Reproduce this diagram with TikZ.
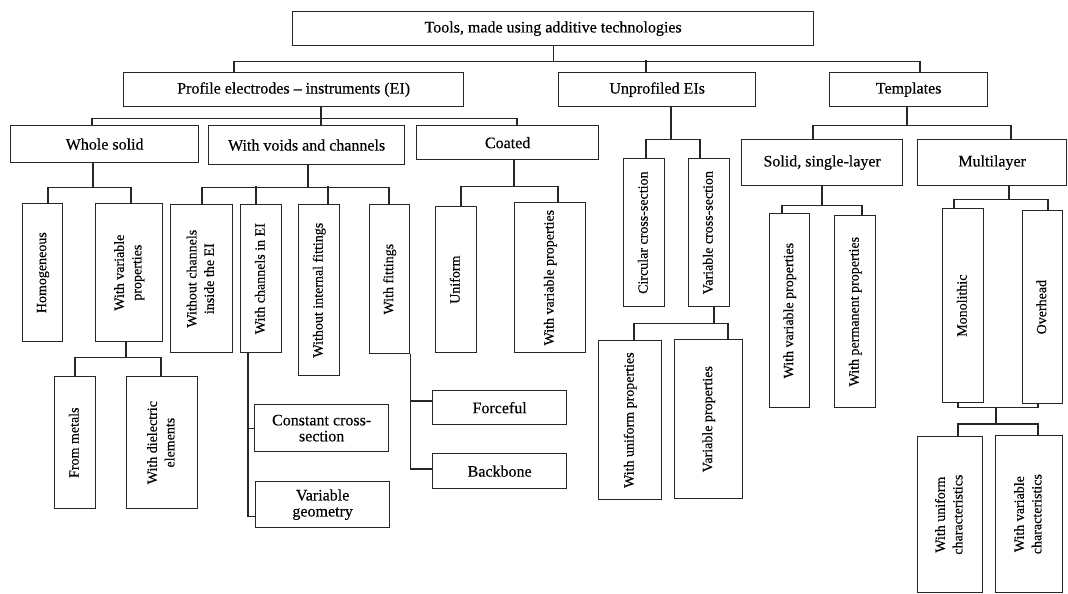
\documentclass[tikz,border=0pt]{standalone}
\usepackage{fontspec}
\setmainfont{Liberation Serif}[FakeBold=0.3]
\usepackage{graphicx}
\usetikzlibrary{calc}
\newcommand{\vtext}[1]{\fontsize{14}{17.5}\selectfont\rotatebox{90}{\begin{tabular}{@{}c@{}}#1\end{tabular}}}
\newcommand{\bx}[6]{\node[box, minimum width={(#4-#2)*1pt}, minimum height={(#5-#3)*1pt}, anchor=north west] (#1) at (#2,#3) {#6};}
\tikzset{
  box/.style={draw=black!85, line width=1.3pt, inner sep=1pt, align=center, text=black,
    font=\fontsize{16}{16}\selectfont},
  conn/.style={draw=black!85, line width=1.3pt},
}
\begin{document}
\begin{tikzpicture}[x=1pt, y=-1pt]
\useasboundingbox (0,0) rectangle (1068,594);
% level 0-1
\bx{top}{292}{11}{813}{45}{Tools, made using additive technologies}
\bx{prof}{123}{72}{463}{106}{Profile electrodes -- instruments (EI)}
\bx{unp}{558}{72}{755}{106}{Unprofiled EIs}
\bx{tmp}{829}{72}{987}{106}{Templates}
% level 2
\bx{ws}{10}{125}{198}{162}{Whole solid}
\bx{vc}{208}{125}{404}{164}{With voids and channels}
\bx{co}{416}{125}{598}{159}{Coated}
\bx{ssl}{741}{139}{902}{185}{Solid, single-layer}
\bx{mul}{917}{139}{1066}{185}{Multilayer}
% vertical boxes
\bx{hom}{22}{203}{62}{341}{\vtext{Homogeneous}}
\bx{wv1}{95}{203}{162}{341}{\vtext{With variable\\properties}}
\bx{met}{54}{376}{95}{508}{\vtext{From metals}}
\bx{die}{126}{376}{197}{508}{\vtext{With dielectric\\elements}}
\bx{woc}{170}{204}{232}{352}{\vtext{Without channels\\inside the EI}}
\bx{wch}{240}{204}{281}{352}{\vtext{With channels in EI}}
\bx{wif}{298}{204}{339}{375}{\vtext{Without internal fittings}}
\bx{wfi}{369}{204}{409}{353}{\vtext{With fittings}}
\bx{ccs}{254}{404}{388}{451}{Constant cross-\\section}
\bx{vge}{255}{481}{389}{527}{Variable\\geometry}
\bx{frc}{432}{390}{566}{424}{Forceful}
\bx{bkb}{432}{453}{566}{488}{Backbone}
\bx{uni}{435}{206}{476}{352}{\vtext{Uniform}}
\bx{wv2}{514}{202}{585}{352}{\vtext{With variable properties}}
\bx{cir}{623}{158}{664}{306}{\vtext{Circular cross-section}}
\bx{vcs}{688}{158}{729}{306}{\vtext{Variable cross-section}}
\bx{wup}{598}{340}{661}{499}{\vtext{With uniform properties}}
\bx{vpr}{674}{339}{742}{498}{\vtext{Variable properties}}
\bx{wv3}{769}{213}{809}{407}{\vtext{With variable properties}}
\bx{wpp}{834}{215}{875}{407}{\vtext{With permanent properties}}
\bx{mon}{942}{208}{983}{402}{\vtext{Monolithic}}
\bx{ovh}{1022}{210}{1062}{403}{\vtext{Overhead}}
\bx{wuc}{917}{436}{982}{592}{\vtext{With uniform\\characteristics}}
\bx{wvc}{995}{435}{1062}{592}{\vtext{With variable\\characteristics}}
% connectors
\draw[conn] (top.south) -- ++(0,15);
\draw[conn] ($(prof.north west)+(111,0)$) |- ($(top.south)+(0,15)$) -| ($(tmp.north west)+(91,0)$);
\draw[conn] ($(unp.north west)+(88,0)$) -- ++(0,-12);
% profile
\draw[conn] ($(prof.south west)+(198,0)$) -- ($(vc.north west)+(113,0)$);
\draw[conn] ($(ws.north west)+(82,0)$) |- ($(prof.south west)+(198,11)$) -| ($(co.north west)+(101,0)$);
% whole solid
\draw[conn] ($(ws.south west)+(83,0)$) -- ++(0,24);
\draw[conn] ($(hom.north west)+(26,0)$) |- ($(ws.south west)+(83,24)$) -| ($(wv1.north west)+(36,0)$);
\draw[conn] ($(wv1.south west)+(31,0)$) -- ++(0,15);
\draw[conn] ($(met.north west)+(21,0)$) |- ($(wv1.south west)+(31,15)$) -| ($(die.north west)+(35,0)$);
% voids
\draw[conn] ($(vc.south west)+(100,0)$) -- ++(0,22);
\draw[conn] ($(woc.north west)+(32,0)$) |- ($(vc.south west)+(100,22)$) -| ($(wfi.north west)+(20,0)$);
\draw[conn] ($(wch.north west)+(16,0)$) -- ++(0,-18);
\draw[conn] ($(wif.north west)+(30,0)$) -- ++(0,-18);
\draw[conn] ($(wch.south west)+(8,0)$) |- (ccs.west);
\draw[conn] ($(wch.south west)+(8,0)$) |- ($(vge.south west)+(0,-12)$);
\draw[conn] (wfi.south east) |- ($(frc.north west)+(0,11)$);
\draw[conn] (wfi.south east) |- ($(bkb.north west)+(0,16)$);
% coated
\draw[conn] ($(co.south west)+(98,0)$) -- ++(0,26);
\draw[conn] ($(uni.north west)+(26,0)$) |- ($(co.south west)+(98,26)$) -| ($(wv2.north west)+(44,0)$);
% unprofiled
\draw[conn] ($(unp.south west)+(113,0)$) -- ++(0,32);
\draw[conn] ($(cir.north west)+(23,0)$) |- ($(unp.south west)+(113,32)$) -| ($(vcs.north west)+(12,0)$);
\draw[conn] ($(vcs.south west)+(26,0)$) -- ++(0,16);
\draw[conn] ($(wup.north west)+(36,0)$) |- ($(vcs.south west)+(26,16)$) -| ($(vpr.north west)+(54,0)$);
% templates
\draw[conn] ($(tmp.south west)+(78,0)$) -- ++(0,18);
\draw[conn] ($(ssl.north west)+(72,0)$) |- ($(tmp.south west)+(78,18)$) -| ($(mul.north west)+(94,0)$);
\draw[conn] ($(ssl.south west)+(81,0)$) -- ++(0,19);
\draw[conn] ($(wv3.north west)+(13,0)$) |- ($(ssl.south west)+(81,19)$) -| ($(wpp.north west)+(28,0)$);
\draw[conn] ($(mul.south west)+(92,0)$) -- ++(0,13);
\draw[conn] ($(mon.north west)+(12,0)$) |- ($(mul.south west)+(92,13)$) -| ($(ovh.north west)+(26,0)$);
\draw[conn] ($(mon.south west)+(16,0)$) |- ($(ovh.south west)+(16,3)$) -- ($(ovh.south west)+(16,0)$);
\draw[conn] ($(mon.south west)+(54,4)$) -- ($(wuc.north west)+(79,-12)$);
\draw[conn] ($(wuc.north west)+(41,0)$) |- ($(wuc.north west)+(79,-12)$) -| ($(wvc.north west)+(43,0)$);
\end{tikzpicture}
\end{document}
